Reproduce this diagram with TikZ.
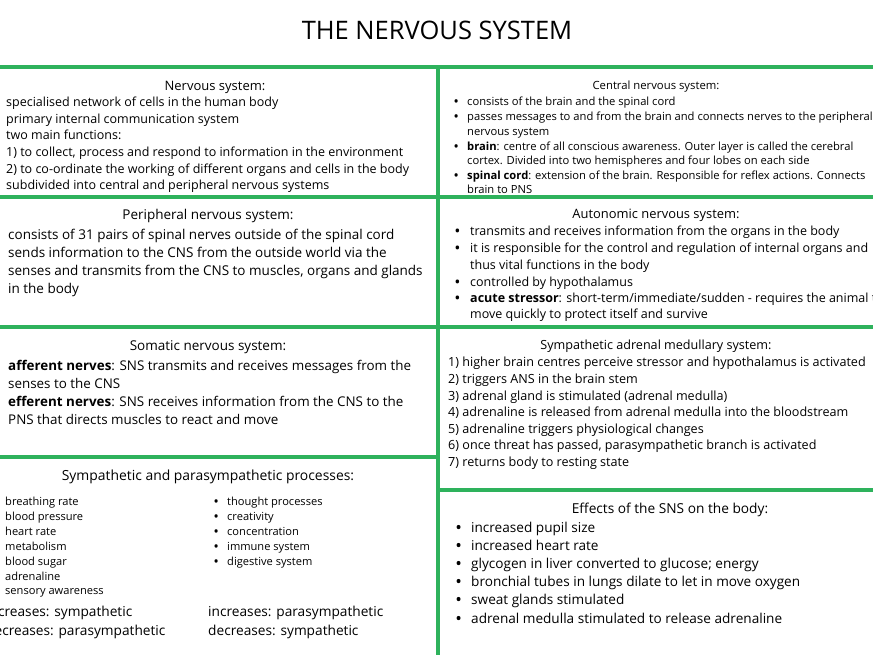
\documentclass[tikz,border=0pt]{standalone}
\usepackage{fontspec}
\setmainfont{Open Sans}
\definecolor{grn}{HTML}{2EB25C}
\newcommand{\fs}[1]{\fontsize{#1}{#1}\selectfont}
\begin{document}
\begin{tikzpicture}[x=1pt,y=-1pt,
  ln/.style={anchor=west,inner sep=0pt,text height=0.72em,text depth=0.2em,yshift=-2.5pt},
  hd/.style={anchor=center,inner sep=0pt,text height=0.72em,text depth=0.2em,yshift=-2pt},
  gl/.style={draw=grn,line width=3.5pt}]
\clip (0,0) rectangle (873,655);
\fill[white] (0,0) rectangle (873,655);
\node[hd,font=\fs{25.5}] (title) at (437,35) {THE NERVOUS SYSTEM};
% grid
\coordinate (t0) at (0,67); \coordinate (t1) at (873,67);
\draw[gl] (t0) -- (t1);
\coordinate (v0) at (438,67); \coordinate (v1) at (438,655);
\draw[gl] (v0) -- (v1);
\foreach \yy in {197,327,457} {\draw[gl] (0,\yy) -- (438,\yy);}
\foreach \yy in {197,327,490} {\draw[gl] (438,\yy) -- (873,\yy);}
% Box 1
\node[hd,font=\fs{13}] (h1) at (215,86) {Nervous system:};
\begin{scope}[every node/.style={ln,font=\fs{12.5}}]
\node (a1) at (6,101) {specialised network of cells in the human body};
\node (a2) at (6,118) {primary internal communication system};
\node (a3) at (6,134) {two main functions:};
\node (a4) at (6,151) {1) to collect, process and respond to information in the environment};
\node (a5) at (6,168) {2) to co-ordinate the working of different organs and cells in the body};
\node (a6) at (6,184) {subdivided into central and peripheral nervous systems};
\end{scope}
% CNS
\node[hd,font=\fs{11.3}] (h2) at (656,85) {Central nervous system:};
\begin{scope}[every node/.style={ln,font=\fs{11.2}}]
\foreach \yy/\nm in {100/b1,115/b2,145/b3,174/b4} {\node (\nm) at (454,\yy) {\textbf{•}};}
\node (c1) at (467,100) {consists of the brain and the spinal cord};
\node (c2) at (467,115) {passes messages to and from the brain and connects nerves to the peripheral};
\node (c3) at (467,130) {nervous system};
\node (c4) at (467,145) {\textbf{brain}: centre of all conscious awareness. Outer layer is called the cerebral};
\node (c5) at (467,159) {cortex. Divided into two hemispheres and four lobes on each side};
\node (c6) at (467,174) {\textbf{spinal cord}: extension of the brain. Responsible for reflex actions. Connects};
\node (c7) at (467,188) {brain to PNS};
\end{scope}
% PNS
\node[hd,font=\fs{13.5}] (h3) at (208,215) {Peripheral nervous system:};
\begin{scope}[every node/.style={ln,font=\fs{13.5}}]
\node (d1) at (8,234) {consists of 31 pairs of spinal nerves outside of the spinal cord};
\node (d2) at (8,252) {sends information to the CNS from the outside world via the};
\node (d3) at (8,270) {senses and transmits from the CNS to muscles, organs and glands};
\node (d4) at (8,288) {in the body};
\end{scope}
% ANS
\node[hd,font=\fs{12.9}] (h4) at (656,214) {Autonomic nervous system:};
\begin{scope}[every node/.style={ln,font=\fs{12.5}}]
\foreach \yy/\nm in {230/e1,247/e2,281/e3,297/e4} {\node (\nm) at (455,\yy) {\textbf{•}};}
\node (f1) at (470,230) {transmits and receives information from the organs in the body};
\node (f2) at (470,247) {it is responsible for the control and regulation of internal organs and};
\node (f3) at (470,264) {thus vital functions in the body};
\node (f4) at (470,281) {controlled by hypothalamus};
\node (f5) at (470,297) {\textbf{acute stressor}: short-term/immediate/sudden - requires the animal to};
\node (f6) at (470,313) {move quickly to protect itself and survive};
\end{scope}
% Somatic
\node[hd,font=\fs{13.5}] (h5) at (208,346) {Somatic nervous system:};
\begin{scope}[every node/.style={ln,font=\fs{13.4}}]
\node (g1) at (8,365) {\textbf{afferent nerves}: SNS transmits and receives messages from the};
\node (g2) at (8,383) {senses to the CNS};
\node (g3) at (8,401) {\textbf{efferent nerves}: SNS receives information from the CNS to the};
\node (g4) at (8,419) {PNS that directs muscles to react and move};
\end{scope}
% SAM
\node[hd,font=\fs{12.6}] (h6) at (656,345) {Sympathetic adrenal medullary system:};
\begin{scope}[every node/.style={ln,font=\fs{12.6}}]
\node (s1) at (448,361) {1) higher brain centres perceive stressor and hypothalamus is activated};
\node (s2) at (448,378) {2) triggers ANS in the brain stem};
\node (s3) at (448,395) {3) adrenal gland is stimulated (adrenal medulla)};
\node (s4) at (448,411) {4) adrenaline is released from adrenal medulla into the bloodstream};
\node (s5) at (448,428) {5) adrenaline triggers physiological changes};
\node (s6) at (448,444) {6) once threat has passed, parasympathetic branch is activated};
\node (s7) at (448,461) {7) returns body to resting state};
\end{scope}
% Processes
\node[hd,font=\fs{13.9}] (h7) at (208,476) {Sympathetic and parasympathetic processes:};
\begin{scope}[every node/.style={ln,font=\fs{11.1}}]
\node (p1) at (5,500) {breathing rate};
\node (p2) at (5,515) {blood pressure};
\node (p3) at (5,530) {heart rate};
\node (p4) at (5,545) {metabolism};
\node (p5) at (5,560) {blood sugar};
\node (p6) at (5,575) {adrenaline};
\node (p7) at (5,589) {sensory awareness};
\foreach \yy/\nm in {500/q1,515/q2,530/q3,545/q4,560/q5} {\node (\nm) at (214,\yy) {\textbf{•}};}
\node (r1) at (227,500) {thought processes};
\node (r2) at (227,515) {creativity};
\node (r3) at (227,530) {concentration};
\node (r4) at (227,545) {immune system};
\node (r5) at (227,560) {digestive system};
\end{scope}
\begin{scope}[every node/.style={ln,font=\fs{13.7}}]
\node (u1) at (-14,611) {increases: sympathetic};
\node (u2) at (-14,630) {decreases: parasympathetic};
\node (u3) at (208,611) {increases: parasympathetic};
\node (u4) at (208,630) {decreases: sympathetic};
\end{scope}
% Effects
\node[hd,font=\fs{13.7}] (h8) at (670,509) {Effects of the SNS on the body:};
\begin{scope}[every node/.style={ln,font=\fs{13.6}}]
\foreach \yy/\nm in {527/w1,545/w2,563/w3,581/w4,599/w5,618/w6} {\node (\nm) at (456,\yy) {\textbf{•}};}
\node (x1) at (471,527) {increased pupil size};
\node (x2) at (471,545) {increased heart rate};
\node (x3) at (471,563) {glycogen in liver converted to glucose; energy};
\node (x4) at (471,581) {bronchial tubes in lungs dilate to let in move oxygen};
\node (x5) at (471,599) {sweat glands stimulated};
\node (x6) at (471,618) {adrenal medulla stimulated to release adrenaline};
\end{scope}
\end{tikzpicture}
\end{document}
